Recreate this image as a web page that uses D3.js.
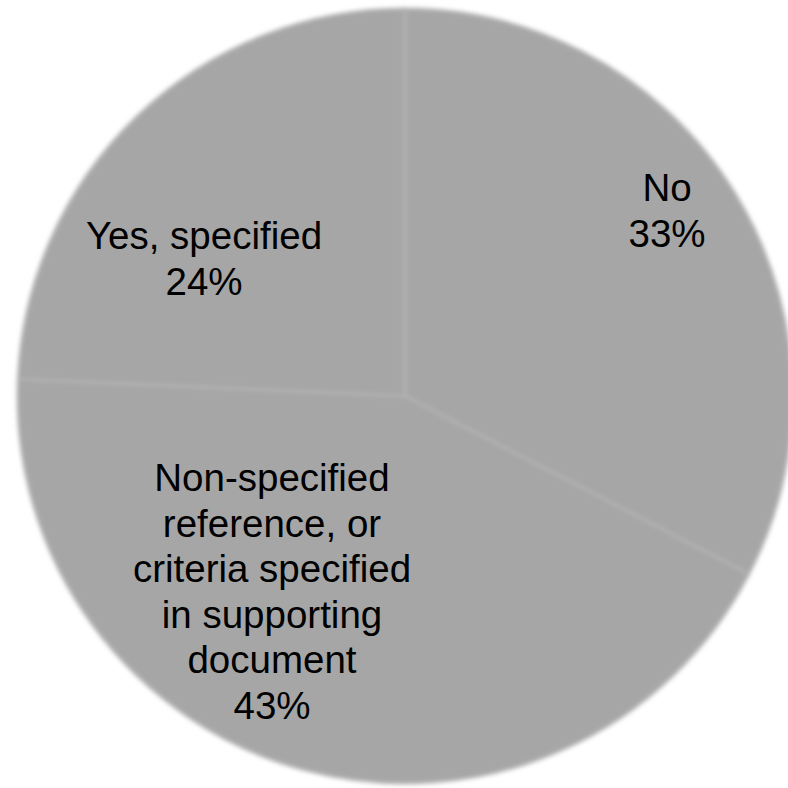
<!DOCTYPE html>
<html><head><meta charset="utf-8">
<script src="https://cdn.jsdelivr.net/npm/d3@7"></script>
<style>html,body{margin:0;padding:0;background:#fff;}svg{display:block;}</style>
</head><body>
<svg id="chart" width="788" height="788"></svg>
<script>
const categories = ["No", "Non-specified reference, or criteria specified in supporting document", "Yes, specified"];
const values = [32.6, 43.1, 24.3];
const labelLines = [["No"], ["Non-specified", "reference, or", "criteria specified", "in supporting", "document"], ["Yes, specified"]];

const W = 788, H = 788, cx = 405, cy = 396, R = 387;
const labelAnchors = [[667, 171], [272, 461], [204, 219]]; // layout: top of each label block
const lineH = 45.6;

const svg = d3.select("#chart");
const defs = svg.append("defs");
const f = defs.append("filter").attr("id", "soft").attr("x", "-5%").attr("y", "-5%").attr("width", "110%").attr("height", "110%");
f.append("feGaussianBlur").attr("stdDeviation", 2.2);

const pie = d3.pie().sort(null).value(d => d)(values);
const arc = d3.arc().innerRadius(0).outerRadius(R);

const g = svg.append("g").attr("transform", `translate(${cx},${cy})`).attr("filter", "url(#soft)");
g.selectAll("path").data(pie).join("path")
  .attr("d", arc)
  .attr("fill", "#a6a6a6")
  .attr("stroke", "#b2b2b2")
  .attr("stroke-width", 3);

const fmt = d3.format(".0%");
const lg = svg.append("g").attr("font-family", "Liberation Sans, Arial, sans-serif").attr("font-size", 38.5).attr("fill", "#000").attr("text-anchor", "middle");
pie.forEach((p, i) => {
  const lines = labelLines[i].concat([fmt(values[i] / d3.sum(values))]);
  const t = lg.append("text").attr("x", labelAnchors[i][0]).attr("y", labelAnchors[i][1]).attr("dominant-baseline", "central");
  lines.forEach((s, j) => t.append("tspan").attr("x", labelAnchors[i][0]).attr("dy", j === 0 ? 16 : lineH).text(s));
});
</script>
</body></html>
